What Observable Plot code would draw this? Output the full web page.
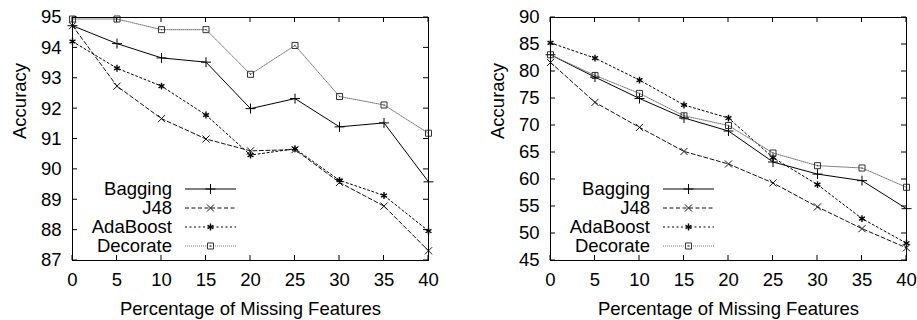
<!DOCTYPE html>
<html>
<head>
<meta charset="utf-8">
<script src="https://cdn.jsdelivr.net/npm/d3@7"></script>
<script src="https://cdn.jsdelivr.net/npm/@observablehq/plot@0.6"></script>
<style>
  html, body { margin: 0; padding: 0; background: #fff; }
  #wrap { display: flex; width: 917px; height: 320px; }
  #wrap svg { display: block; flex: none; }
</style>
</head>
<body>
<div id="wrap"></div>
<script>
// ---- data ----
const missing = [0, 5, 10, 15, 20, 25, 30, 35, 40];
const seriesNames = ["Bagging", "J48", "AdaBoost", "Decorate"];

const leftBagging  = [94.73, 94.14, 93.67, 93.53, 92.00, 92.33, 91.40, 91.53, 89.59];
const leftJ48      = [94.73, 92.74, 91.67, 91.00, 90.61, 90.65, 89.57, 88.79, 87.32];
const leftAdaBoost = [94.21, 93.33, 92.74, 91.79, 90.47, 90.68, 89.64, 89.14, 87.97];
const leftDecorate = [94.95, 94.95, 94.60, 94.60, 93.13, 94.08, 92.40, 92.12, 91.19];

const rightBagging  = [83.1, 78.96, 75.0, 71.4, 68.98, 63.24, 61.0, 59.79, 54.6];
const rightJ48      = [81.68, 74.28, 69.65, 65.2, 62.87, 59.36, 54.92, 50.9, 47.34];
const rightAdaBoost = [85.31, 82.48, 78.41, 73.8, 71.38, 64.04, 59.05, 52.76, 48.2];
const rightDecorate = [83.1, 79.27, 75.94, 71.8, 70.0, 64.9, 62.56, 62.13, 58.56];

const xTicks = [0, 5, 10, 15, 20, 25, 30, 35, 40];
const leftYTicks = [87, 88, 89, 90, 91, 92, 93, 94, 95];
const rightYTicks = [45, 50, 55, 60, 65, 70, 75, 80, 85, 90];
const xLabel = "Percentage of Missing Features";
const yLabel = "Accuracy";

// ---- styles ----
const styles = {
  Bagging:  {line: "#000", dash: null,    symbol: "plus",     d3sym: d3.symbolPlus,     r: 3.3, mark: "#000", sw: 1},
  J48:      {line: "#111", dash: "4,2.5", symbol: "times",    d3sym: d3.symbolTimes,    r: 3.3, mark: "#111", sw: 1},
  AdaBoost: {line: "#000", dash: "2,2.5", symbol: "asterisk", d3sym: d3.symbolAsterisk, r: 3.2, mark: "#000", sw: 1.4},
  Decorate: {line: "#777", dash: "1,1",   symbol: "square",   d3sym: d3.symbolSquare,   r: 3.4, mark: "#333", sw: 1}
};
const FONT = "'Liberation Sans', Arial, Helvetica, sans-serif";
const FS = 18.5;

function inwardTicks(xt, yt, len) {
  return (index, scales, values, dims) => {
    const {x, y} = scales;
    const left = dims.marginLeft, right = dims.width - dims.marginRight;
    const top = dims.marginTop, bottom = dims.height - dims.marginBottom;
    const g = d3.create("svg:g").attr("stroke", "#000").attr("stroke-width", 1).attr("fill", "none");
    for (const t of xt) {
      const px = x(t);
      g.append("line").attr("x1", px).attr("x2", px).attr("y1", bottom).attr("y2", bottom - len);
      g.append("line").attr("x1", px).attr("x2", px).attr("y1", top).attr("y2", top + len);
    }
    for (const t of yt) {
      const py = y(t);
      g.append("line").attr("x1", left).attr("x2", left + len).attr("y1", py).attr("y2", py);
      g.append("line").attr("x1", right).attr("x2", right - len).attr("y1", py).attr("y2", py);
    }
    return g.node();
  };
}

function legendMark() {
  const rowDy = [-71, -52, -33, -14];
  return (index, scales, values, dims) => {
    const left = dims.marginLeft, bottom = dims.height - dims.marginBottom;
    const g = d3.create("svg:g");
    seriesNames.forEach((s, i) => {
      const st = styles[s];
      const yy = bottom + rowDy[i];
      g.append("text")
        .attr("x", left + 100).attr("y", yy).attr("dy", "0.32em")
        .attr("text-anchor", "end").attr("fill", "#000")
        .attr("font-family", FONT).attr("font-size", FS)
        .text(s);
      g.append("line")
        .attr("x1", left + 113).attr("x2", left + 164).attr("y1", yy).attr("y2", yy)
        .attr("stroke", st.line).attr("stroke-width", 1)
        .attr("stroke-dasharray", st.dash);
      const cx = left + 138.5;
      g.append("path")
        .attr("transform", `translate(${cx},${yy})`)
        .attr("d", d3.symbol(st.d3sym, Math.PI * st.r * st.r)())
        .attr("fill", "none").attr("stroke", st.mark).attr("stroke-width", st.sw);
      if (s === "Decorate") {
        g.append("circle").attr("cx", cx).attr("cy", yy).attr("r", 0.7).attr("fill", st.mark);
      }
    });
    return g.node();
  };
}

function panel(valuesList, yDomain, yTicks, width, marginLeft, marginRight) {
  const marks = [];
  seriesNames.forEach((s, i) => {
    const st = styles[s];
    const data = missing.map((m, j) => ({x: m, y: valuesList[i][j]}));
    marks.push(Plot.line(data, {x: "x", y: "y", stroke: st.line, strokeWidth: 1, strokeDasharray: st.dash}));
    marks.push(Plot.dot(data, {x: "x", y: "y", symbol: st.symbol, r: st.r, stroke: st.mark, strokeWidth: st.sw, fill: "none"}));
    if (s === "Decorate") {
      marks.push(Plot.dot(data, {x: "x", y: "y", r: 0.7, fill: st.mark, stroke: null}));
    }
  });
  marks.push(Plot.frame({stroke: "#000", strokeWidth: 1}));
  marks.push(inwardTicks(xTicks, yTicks, 5));
  marks.push(legendMark());
  marks.push(Plot.text([xLabel], {text: d => d, frameAnchor: "bottom", dy: 54, lineAnchor: "bottom", fill: "#000", fontSize: FS}));
  marks.push(Plot.text([yLabel], {text: d => d, frameAnchor: "left", dx: -47, rotate: -90, lineAnchor: "bottom", fill: "#000", fontSize: FS}));
  return Plot.plot({
    width, height: 320,
    marginLeft, marginRight, marginTop: 17, marginBottom: 60,
    style: {fontFamily: FONT, fontSize: FS + "px", color: "#000", background: "#fff", overflow: "visible"},
    x: {domain: [0, 40], ticks: xTicks, tickSize: 0, tickPadding: 12, label: null},
    y: {domain: yDomain, ticks: yTicks, tickSize: 0, tickPadding: 11, label: null},
    marks
  });
}

const wrap = document.getElementById("wrap");
wrap.appendChild(panel([leftBagging, leftJ48, leftAdaBoost, leftDecorate], [87, 95], leftYTicks, 457, 72, 29));
wrap.appendChild(panel([rightBagging, rightJ48, rightAdaBoost, rightDecorate], [45, 90], rightYTicks, 460, 93, 11));
</script>
</body>
</html>
